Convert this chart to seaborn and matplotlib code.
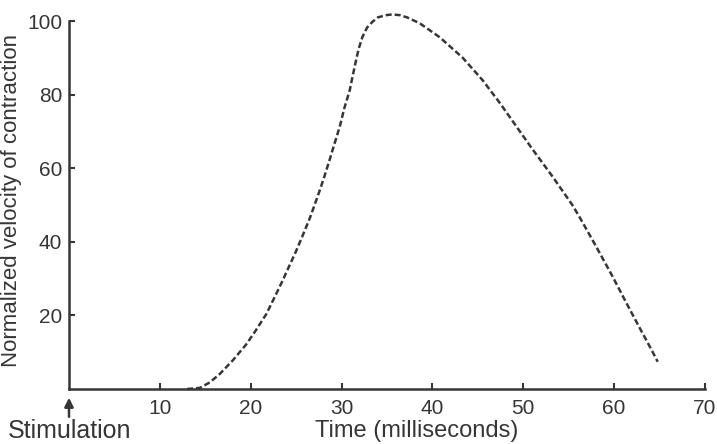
import matplotlib
matplotlib.use("Agg")
import matplotlib.pyplot as plt
import seaborn as sns
import pandas as pd

# values
time_ms = [13.0, 14.4, 15.5, 16.6, 18.0, 19.5, 20.5, 21.7, 22.6, 23.5, 24.2, 25.0,
           25.7, 26.5, 27.0, 27.6, 28.1, 28.7, 29.2, 29.8, 30.3, 30.9, 31.2, 31.6,
           31.9, 32.3, 32.8, 33.4, 34.0, 34.9, 35.6, 36.4, 37.2, 38.6, 40.8, 43.3,
           45.5, 47.4, 49.2, 51.0, 53.2, 55.4, 56.2, 58.0, 59.8, 61.3, 62.7, 63.8,
           64.8]
velocity = [0.0, 0.3, 1.8, 4.1, 7.7, 12.1, 15.7, 20.3, 24.8, 29.4, 33.2, 37.5,
            41.6, 46.4, 49.8, 54.0, 57.7, 62.4, 66.5, 71.3, 76.3, 81.2, 84.8, 89.4,
            92.6, 95.7, 98.2, 99.8, 101.0, 101.6, 101.8, 101.6, 101.0, 99.4, 95.6, 90.1,
            84.0, 77.8, 71.5, 65.2, 57.8, 50.0, 46.7, 38.8, 30.7, 23.6, 17.1, 12.1,
            7.4]
x_ticks = [10, 20, 30, 40, 50, 60, 70]
y_ticks = [20, 40, 60, 80, 100]

ink = "#363636"

sns.set_style("ticks")
plt.rcParams["font.family"] = ["Liberation Sans", "DejaVu Sans"]

df = pd.DataFrame({"time": time_ms, "velocity": velocity})

fig = plt.figure(figsize=(7.17, 4.44), dpi=100)
ax = fig.add_axes([69 / 717, 1 - 389 / 444, 636 / 717, 379 / 444])

sns.lineplot(data=df, x="time", y="velocity", ax=ax, color=ink, linewidth=1.8,
             sort=False, clip_on=False)
ax.lines[0].set_dashes((2.4, 1.2))

ax.set_xlim(0, 70)
ax.set_ylim(0, 103)
sns.despine(ax=ax)
ax.spines["left"].set_bounds(0, 100)
for side in ["left", "bottom"]:
    ax.spines[side].set_linewidth(1.8)
    ax.spines[side].set_color(ink)

ax.set_xticks(x_ticks)
ax.set_yticks(y_ticks)
ax.tick_params(axis="both", direction="in", length=4, width=1.5, color=ink,
               labelsize=15, labelcolor=ink)
ax.tick_params(axis="x", pad=7)
ax.tick_params(axis="y", pad=5)
ax.set_xlabel("")
ax.set_ylabel("")

fig.text(12 / 717, 1 - 200 / 444, "Normalized velocity of contraction", rotation=90,
         ha="center", va="center", fontsize=16, color=ink)
fig.text(417 / 717, 1 - 431 / 444, "Time (milliseconds)", ha="center", va="center",
         fontsize=17, color=ink)
fig.text(8 / 717, 1 - 431 / 444, "Stimulation", ha="left", va="center",
         fontsize=18, color=ink)

ax.annotate("", xy=(0, -1.6), xytext=(0, -8.3), annotation_clip=False,
            arrowprops=dict(arrowstyle="-|>", color=ink, lw=1.8, mutation_scale=13))

fig.savefig("out.png", dpi=100)
